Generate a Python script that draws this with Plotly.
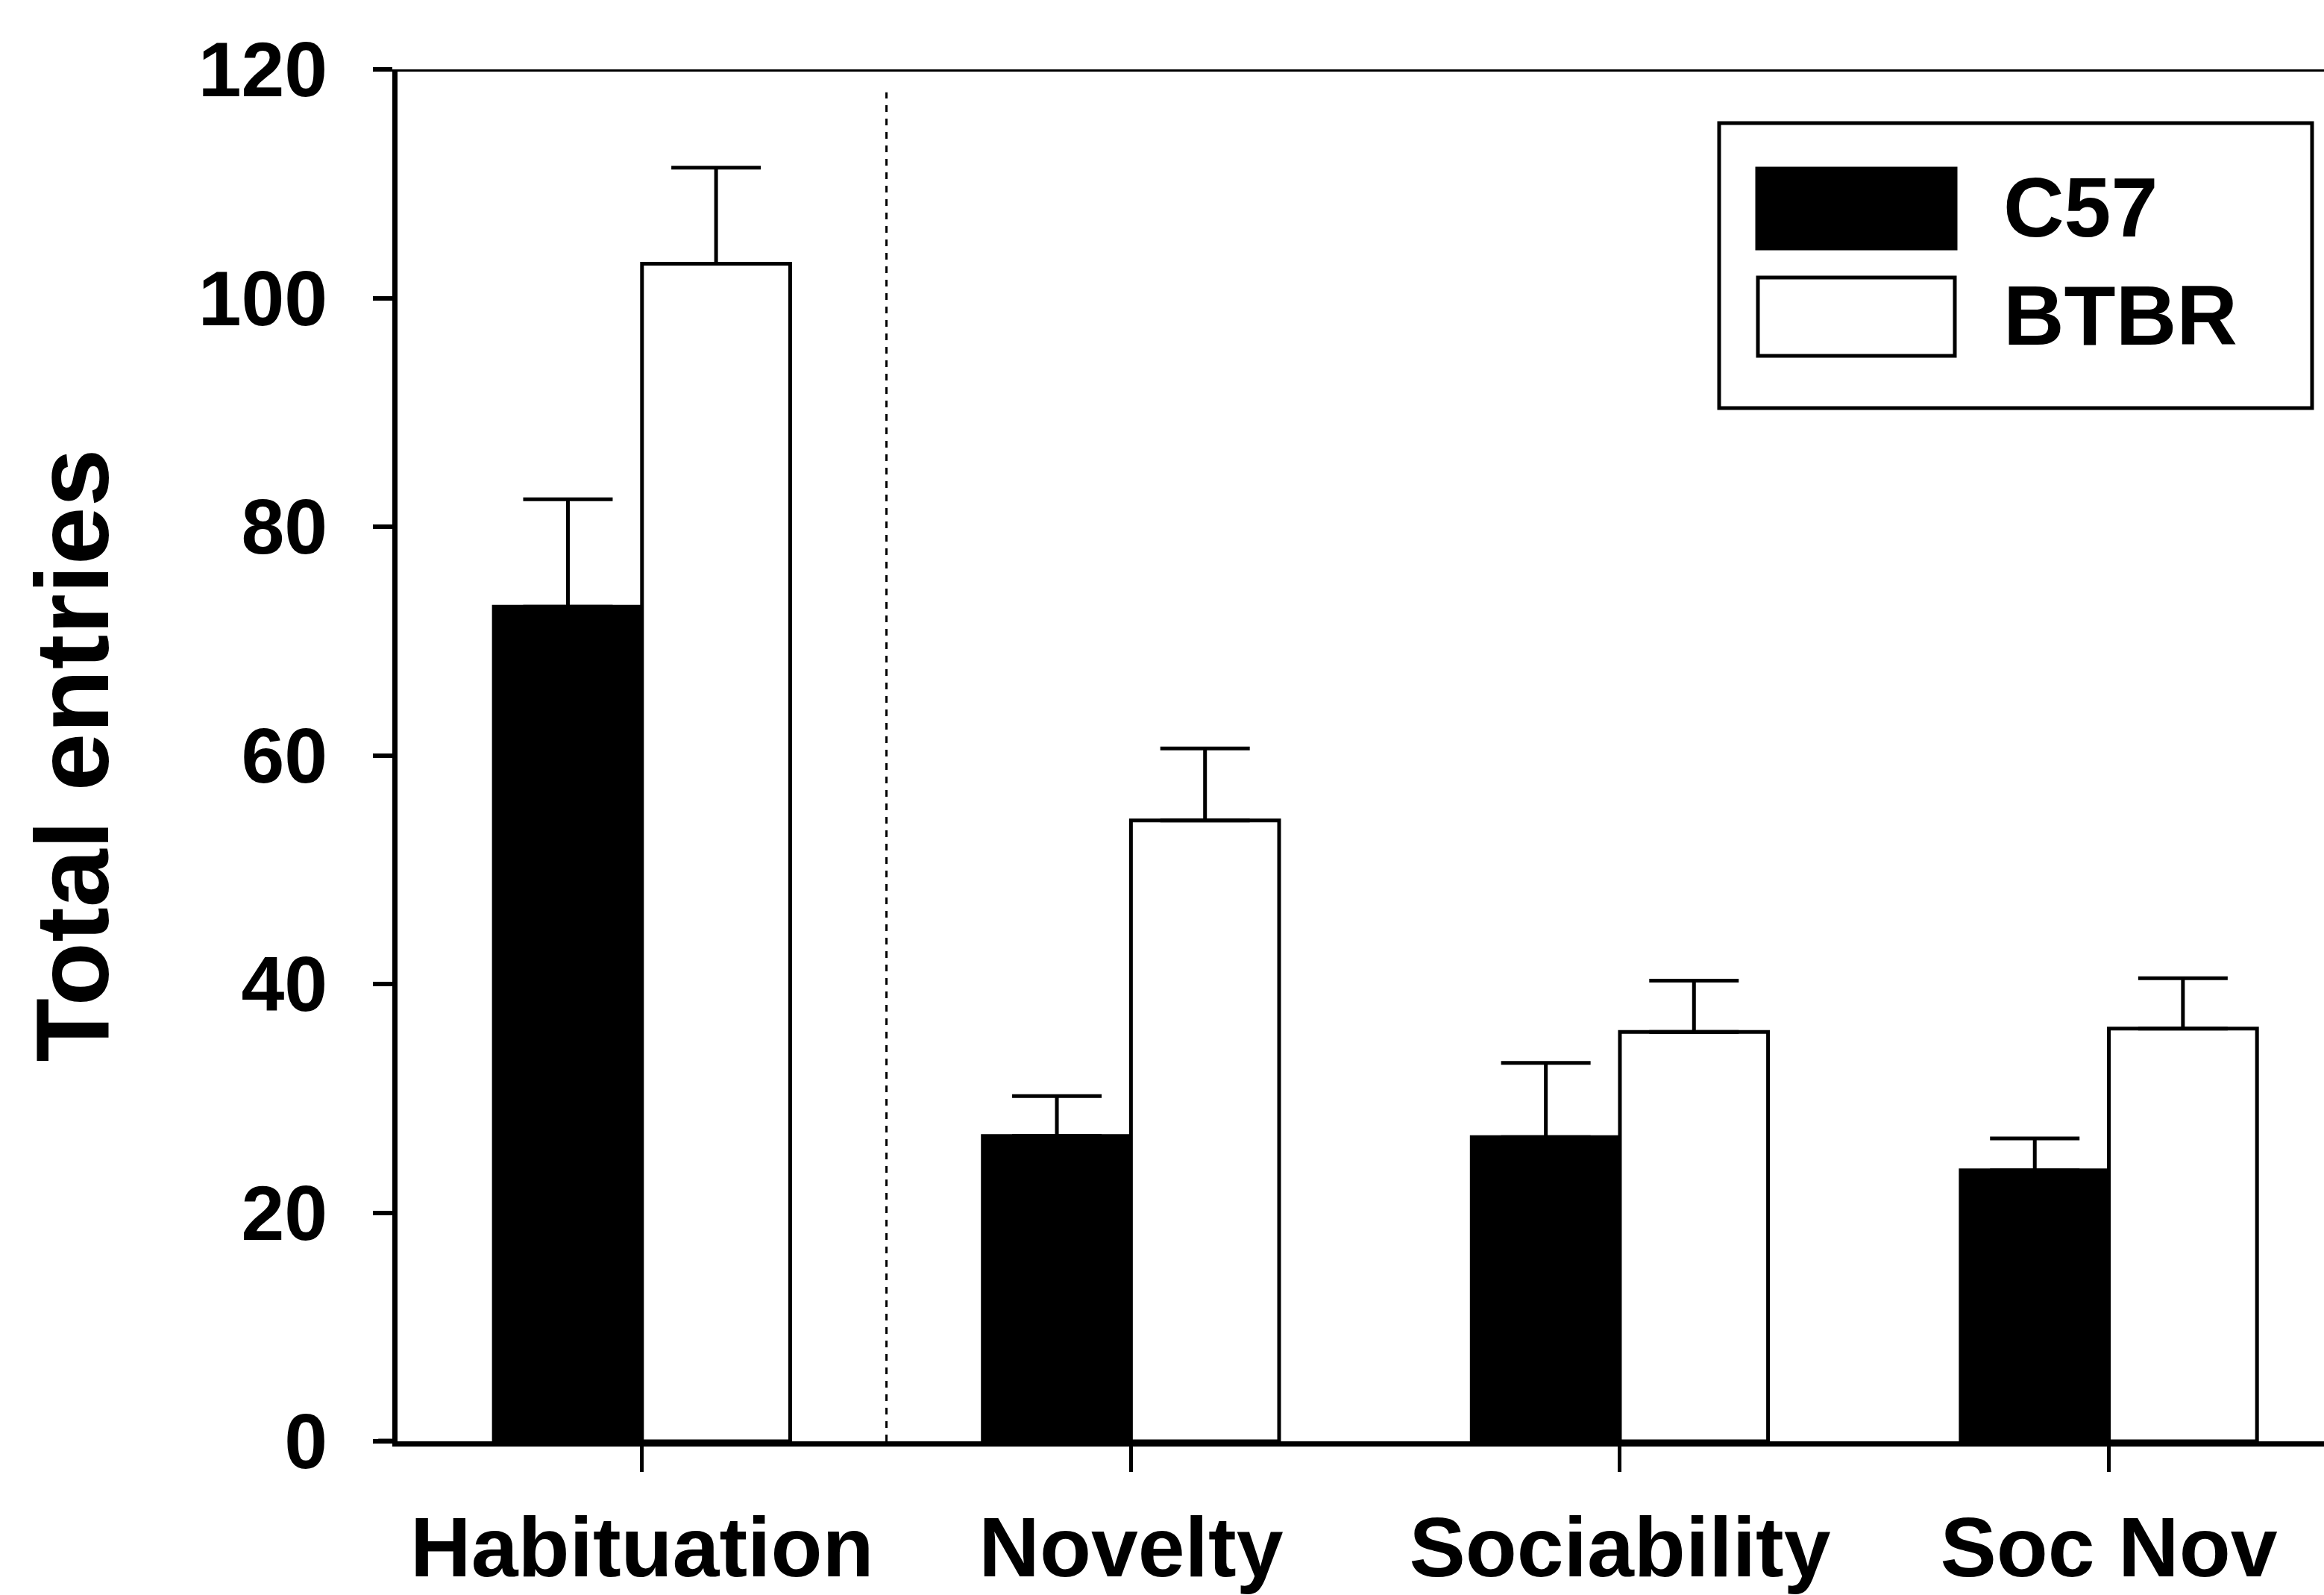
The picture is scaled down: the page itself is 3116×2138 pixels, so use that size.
import plotly.graph_objects as go

categories = ["Habituation", "Novelty", "Sociability", "Soc Nov"]
c57_mean = [73.0, 26.7, 26.6, 23.7]
c57_err = [9.4, 3.5, 6.5, 2.8]
btbr_mean = [103.0, 54.3, 35.8, 36.1]
btbr_err = [8.4, 6.3, 4.5, 4.4]
series_names = ["C57", "BTBR"]
y_ticks = [0, 20, 40, 60, 80, 100, 120]

W, H = 3116, 2138
L, T, B, R = 533, 93, 206, 0
PW, PH = W - L - R, H - T - B


def px(x):
    return (x - L) / PW


def py(y):
    return 1 - (y - T) / PH


FONT = "Liberation Sans, Arial, sans-serif"
xs = list(range(len(categories)))

fig = go.Figure()
fig.add_trace(go.Bar(
    x=xs, y=c57_mean, name=series_names[0],
    marker=dict(color="black", line=dict(color="black", width=5)),
    error_y=dict(type="data", symmetric=False, array=c57_err,
                 arrayminus=[0] * len(c57_err), color="black",
                 thickness=5, width=60),
    showlegend=False,
))
fig.add_trace(go.Bar(
    x=xs, y=btbr_mean, name=series_names[1],
    marker=dict(color="white", line=dict(color="black", width=5)),
    error_y=dict(type="data", symmetric=False, array=btbr_err,
                 arrayminus=[0] * len(btbr_err), color="black",
                 thickness=5, width=60),
    showlegend=False,
))

# top frame line, left extension of the baseline, dashed separator
fig.add_shape(type="line", xref="paper", yref="y", x0=-0.01, x1=1.0,
              y0=120, y1=120, line=dict(color="black", width=6))
fig.add_shape(type="line", xref="paper", yref="y", x0=-0.01, x1=0.0,
              y0=0, y1=0, line=dict(color="black", width=7))
fig.add_shape(type="line", xref="x", yref="y", x0=0.5, x1=0.5,
              y0=0, y1=118, line=dict(color="black", width=3, dash="dash"))

# legend box
fig.add_shape(type="rect", xref="paper", yref="paper",
              x0=px(2305), x1=px(3100), y0=py(547), y1=py(165),
              line=dict(color="black", width=5), fillcolor="white")
fig.add_shape(type="rect", xref="paper", yref="paper",
              x0=px(2355), x1=px(2623), y0=py(334), y1=py(225),
              line=dict(color="black", width=3), fillcolor="black")
fig.add_shape(type="rect", xref="paper", yref="paper",
              x0=px(2357), x1=px(2621), y0=py(477), y1=py(372),
              line=dict(color="black", width=5), fillcolor="white")
for name, yy in zip(series_names, [278, 423]):
    fig.add_annotation(xref="paper", yref="paper", x=px(2684), y=py(yy),
                       text=name, showarrow=False, xanchor="left",
                       yanchor="middle",
                       font=dict(family=FONT, size=113, color="black",
                                 weight="bold"))

fig.update_layout(
    width=W, height=H,
    margin=dict(l=L, r=R, t=T, b=B, pad=0),
    paper_bgcolor="white", plot_bgcolor="white",
    barmode="group", bargap=0.394, bargroupgap=0,
    font=dict(family=FONT, color="black", weight="bold"),
)
fig.update_xaxes(
    range=[-0.5, 3.44], tickmode="array", tickvals=xs, ticktext=categories,
    showline=True, linecolor="black", linewidth=7,
    ticks="outside", ticklen=34, tickwidth=5, tickcolor="black",
    showgrid=False, zeroline=False, automargin=False,
    tickfont=dict(family=FONT, size=113, color="black", weight="bold"),
    ticklabelstandoff=4,
)
fig.update_yaxes(
    range=[0, 120], tickmode="array", tickvals=y_ticks,
    showline=True, linecolor="black", linewidth=7,
    ticks="outside", ticklen=26, tickwidth=6, tickcolor="black",
    showgrid=False, zeroline=False, automargin=False,
    tickfont=dict(family=FONT, size=104, color="black", weight="bold"),
    ticklabelstandoff=40,
    title=dict(text="Total entries", standoff=75,
               font=dict(family=FONT, size=140, color="black", weight="bold")),
)

fig.write_html("out.html")
